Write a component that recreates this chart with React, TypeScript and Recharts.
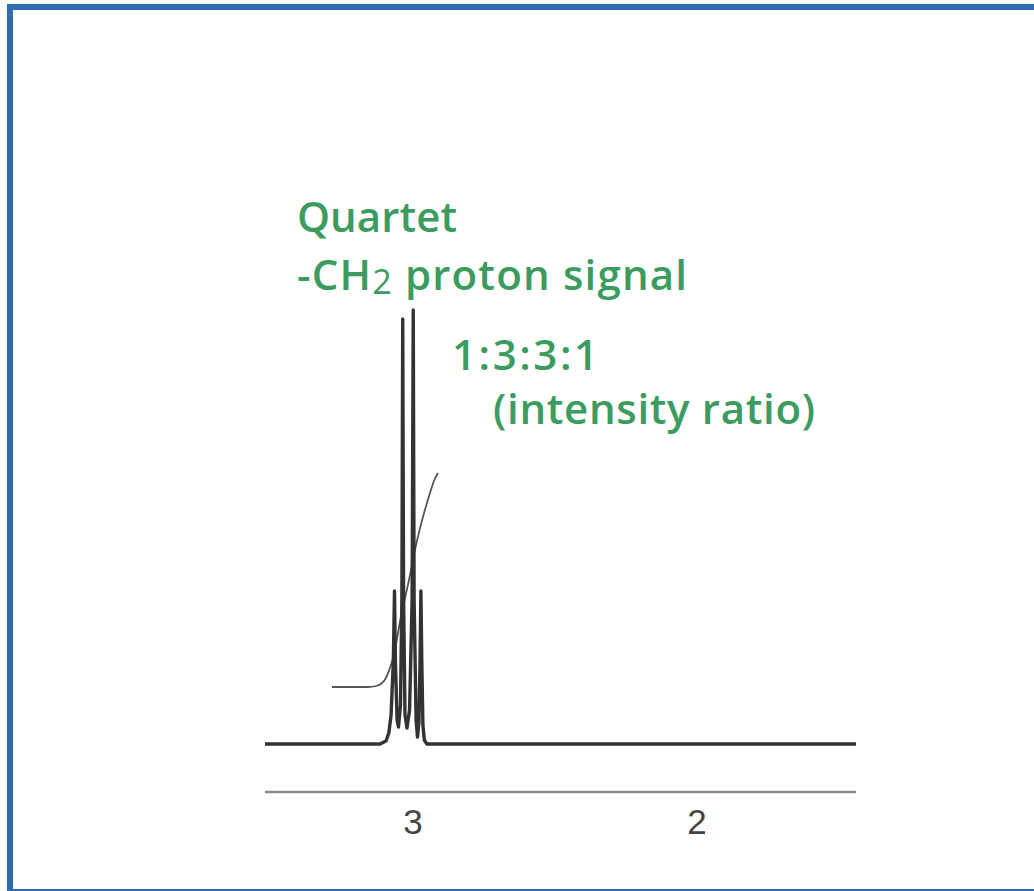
import { Line, LineChart, XAxis, YAxis } from "recharts";

// chemical shift (ppm) and relative intensity
const spectrumPpm = [
  3.521, 3.116, 3.095, 3.085, 3.077, 3.069, 3.065, 3.062, 3.056, 3.051, 3.044, 3.039, 3.036, 3.033,
  3.028, 3.021, 3.012, 3.003, 2.999, 2.996, 2.989, 2.984, 2.979, 2.975, 2.972, 2.969, 2.965, 2.96,
  2.951, 1.44,
];
const spectrumIntensity = [
  0, 0, 0.6, 2.2, 5.8, 16.8, 30.6, 16.8, 4.8, 3.4, 7.8, 28.8, 85.0, 28.8,
  5.8, 3.2, 6.8, 28.8, 86.8, 28.8, 4.8, 1.4, 4.4, 16.8, 30.6, 16.8, 3.8, 0.8,
  0, 0,
];

// integral trace
const integralPpm = [
  3.285, 3.158, 3.13, 3.109, 3.095, 3.085, 3.074, 3.06, 3.046, 3.028, 3.011, 2.993, 2.975, 2.958,
  2.94, 2.926, 2.912,
];
const integralValue = [
  11.4, 11.4, 11.6, 12.2, 13.2, 14.6, 16.4, 19.8, 24.4, 29.2, 33.6, 38.8, 43.2, 46.8,
  50.2, 52.6, 54.2,
];

const ppmTicks = [3, 2];

const spectrum = spectrumPpm.map((ppm, i) => ({ ppm, y: spectrumIntensity[i] }));
const integral = integralPpm.map((ppm, i) => ({ ppm, y: integralValue[i] }));

const GREEN = "#3c9b5f";
const LABEL_FONT = "'Open Sans', 'Noto Sans', sans-serif";

export default function App() {
  return (
    <div style={{ position: "relative", width: 1034, height: 891, overflow: "hidden", background: "#fff" }}>
      <style>{`body{margin:0}`}</style>
      <LineChart
        width={1034}
        height={891}
        margin={{ top: 300, right: 178, bottom: 69, left: 265 }}
      >
        <XAxis
          dataKey="ppm"
          type="number"
          domain={[1.44, 3.521]}
          reversed
          allowDataOverflow
          ticks={ppmTicks}
          tickLine={false}
          tickMargin={11}
          height={30}
          axisLine={{ stroke: "#8a8a8a", strokeWidth: 2.5 }}
          tick={{ fontSize: 35, fill: "#444", fontFamily: "'Liberation Sans', Arial, sans-serif" }}
        />
        <YAxis type="number" domain={[-9.6, 88.8]} hide allowDataOverflow />
        <Line
          data={integral}
          dataKey="y"
          type="monotone"
          stroke="#555"
          strokeWidth={1.8}
          dot={false}
          isAnimationActive={false}
        />
        <Line
          data={spectrum}
          dataKey="y"
          type="linear"
          stroke="#333"
          strokeWidth={3.4}
          strokeLinejoin="round"
          dot={false}
          isAnimationActive={false}
        />
      </LineChart>

      <svg
        width={1034}
        height={891}
        style={{ position: "absolute", left: 0, top: 0, pointerEvents: "none" }}
      >
        <g fill={GREEN} fontFamily={LABEL_FONT} fontWeight={600} fontSize={42}>
          <text x={297} y={232} textLength={160} lengthAdjust="spacing">Quartet</text>
          <text x={297} y={290} textLength={390} lengthAdjust="spacing">
            -CH<tspan fontSize={34} fontWeight={400} dy={4}>2</tspan>
            <tspan dy={-4}> proton signal</tspan>
          </text>
          <text x={452} y={370} textLength={146} lengthAdjust="spacing">1:3:3:1</text>
          <text x={493} y={424} textLength={322} lengthAdjust="spacing">(intensity ratio)</text>
        </g>
      </svg>

      <div
        style={{
          position: "absolute",
          left: 7,
          top: 4,
          width: 1100,
          height: 891,
          boxSizing: "border-box",
          border: "6px solid #2f6cb2",
        }}
      />
    </div>
  );
}
